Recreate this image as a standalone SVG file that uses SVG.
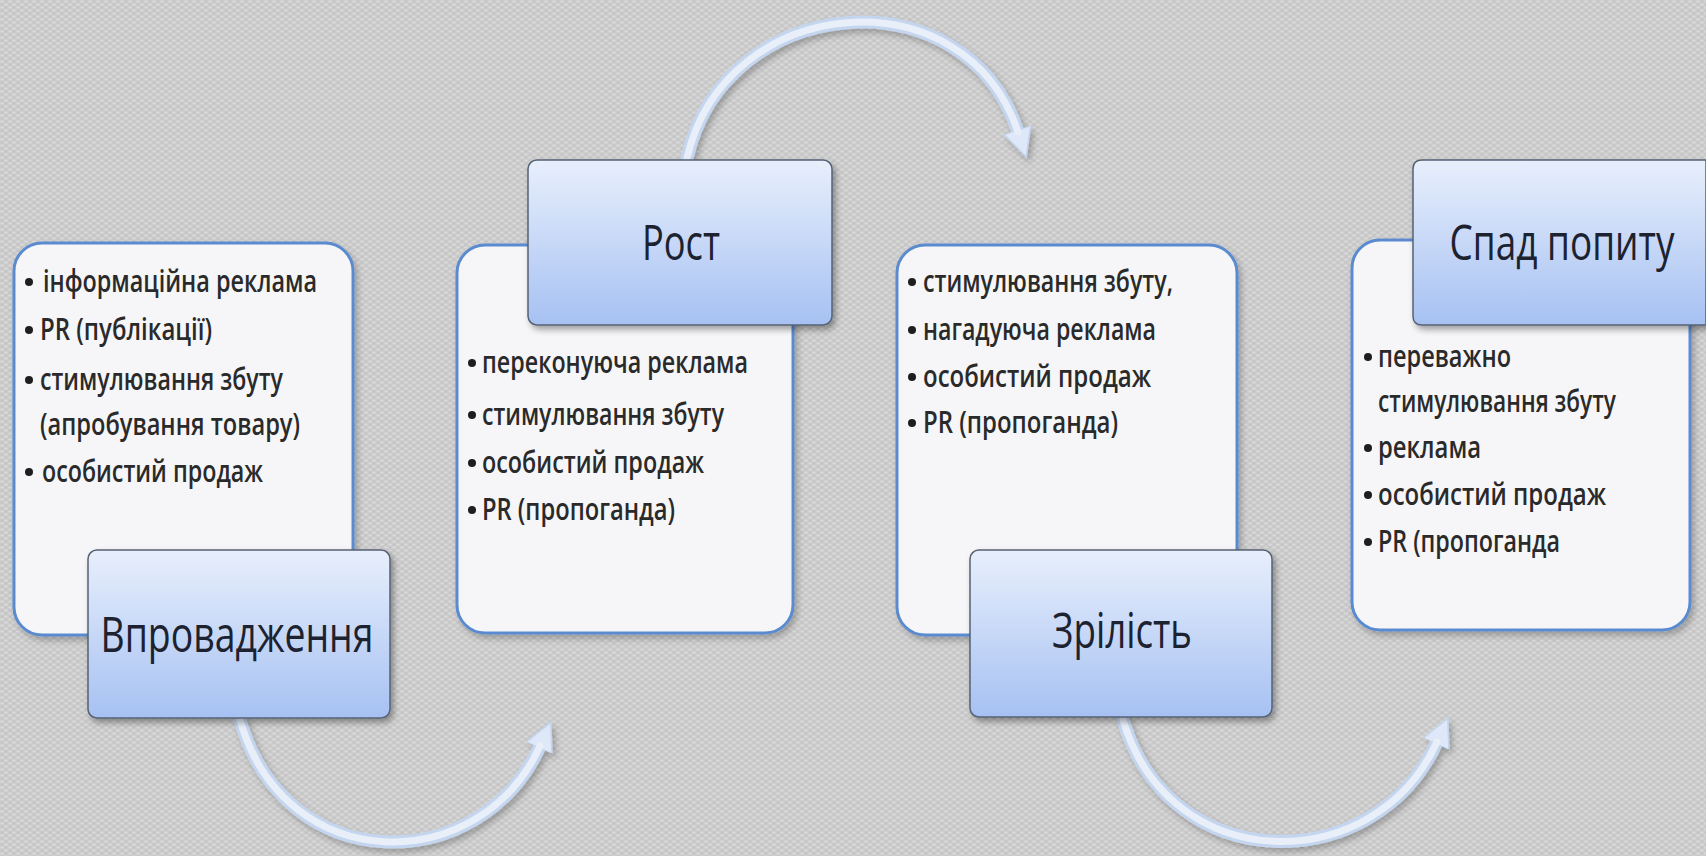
<svg xmlns="http://www.w3.org/2000/svg" width="1706" height="856" viewBox="0 0 1706 856">
<defs>
<style>
.card{fill:#f6f6f8;stroke:#5a8bd0;stroke-width:3}
.head{fill:url(#hg);stroke:#566274;stroke-width:1.5}
.ht{font-family:"Open Sans","Noto Sans",sans-serif;font-size:50px;fill:#1c2230;text-anchor:middle}
.bt{font-family:"Open Sans","Noto Sans",sans-serif;font-size:30px;font-weight:600;fill:#2a2a2a}
.dot{fill:#1e1e1e}
.arcO{fill:none;stroke:#c4d5ef;stroke-width:13;stroke-linecap:round}
.arcI{fill:none;stroke:#e8eff9;stroke-width:7;stroke-linecap:round}
</style>
<linearGradient id="hg" x1="0" y1="0" x2="0" y2="1">
<stop offset="0" stop-color="#e8effc"/>
<stop offset="1" stop-color="#a6c1f2"/>
</linearGradient>
<pattern id="tex" width="8" height="6" patternUnits="userSpaceOnUse">
<rect width="8" height="6" fill="#cbcbcb"/>
<ellipse cx="2" cy="1.5" rx="1.8" ry="1.1" fill="#dbdbdb"/>
<ellipse cx="6" cy="4.5" rx="1.8" ry="1.1" fill="#dbdbdb"/>
<ellipse cx="6" cy="1.5" rx="1" ry="0.7" fill="#c0c0c0"/>
<ellipse cx="2" cy="4.5" rx="1" ry="0.7" fill="#c0c0c0"/>
</pattern>
<filter id="sh" x="-10%" y="-10%" width="130%" height="130%">
<feDropShadow dx="3" dy="4" stdDeviation="3" flood-color="#000" flood-opacity="0.35"/>
</filter>
<filter id="ash" x="-10%" y="-10%" width="130%" height="130%">
<feDropShadow dx="3" dy="4" stdDeviation="3" flood-color="#000" flood-opacity="0.25"/>
</filter>
<marker id="ah" markerUnits="userSpaceOnUse" markerWidth="30" markerHeight="32" refX="2" refY="15" orient="auto">
<path d="M0,1 L28,15 L0,29 Z" fill="#dfe8f8" stroke="#c4d5ef" stroke-width="1.5"/>
</marker>
</defs>
<rect width="1706" height="856" fill="url(#tex)"/>

<g id="connectors" filter="url(#ash)">
<path class="arcO" d="M687,158 C725,-8 965,-28 1018,132" marker-end="url(#ah)"/>
<path class="arcI" d="M687,158 C725,-8 965,-28 1018,132"/>
<path class="arcO" d="M240,720 C285,878 480,878 540,746" marker-end="url(#ah)"/>
<path class="arcI" d="M240,720 C285,878 480,878 540,746"/>
<path class="arcO" d="M1123,720 C1170,878 1375,878 1437,742" marker-end="url(#ah)"/>
<path class="arcI" d="M1123,720 C1170,878 1375,878 1437,742"/>
</g>

<g id="stage1">
<rect class="card" x="14" y="243" width="339" height="392" rx="28" filter="url(#ash)"/>
<circle class="dot" cx="29" cy="282" r="4"/>
<text class="bt" x="43" y="292" textLength="274" lengthAdjust="spacingAndGlyphs">інформаційна реклама</text>
<circle class="dot" cx="29" cy="330" r="4"/>
<text class="bt" x="40" y="340" textLength="172" lengthAdjust="spacingAndGlyphs">PR (публікації)</text>
<circle class="dot" cx="29" cy="380" r="4"/>
<text class="bt" x="40" y="390" textLength="243" lengthAdjust="spacingAndGlyphs">стимулювання збуту</text>
<text class="bt" x="40" y="435" textLength="260" lengthAdjust="spacingAndGlyphs">(апробування товару)</text>
<circle class="dot" cx="29" cy="472" r="4"/>
<text class="bt" x="42" y="482" textLength="221" lengthAdjust="spacingAndGlyphs">особистий продаж</text>
<rect class="head" x="88" y="550" width="302" height="168" rx="9" filter="url(#sh)"/>
<text class="ht" x="237" y="652" textLength="273" lengthAdjust="spacingAndGlyphs">Впровадження</text>
</g>

<g id="stage2">
<rect class="card" x="457" y="245" width="336" height="388" rx="28" filter="url(#ash)"/>
<circle class="dot" cx="472" cy="363" r="4"/>
<text class="bt" x="482" y="373" textLength="266" lengthAdjust="spacingAndGlyphs">переконуюча реклама</text>
<circle class="dot" cx="472" cy="415" r="4"/>
<text class="bt" x="482" y="425" textLength="242" lengthAdjust="spacingAndGlyphs">стимулювання збуту</text>
<circle class="dot" cx="472" cy="463" r="4"/>
<text class="bt" x="482" y="473" textLength="222" lengthAdjust="spacingAndGlyphs">особистий продаж</text>
<circle class="dot" cx="472" cy="510" r="4"/>
<text class="bt" x="482" y="520" textLength="193" lengthAdjust="spacingAndGlyphs">PR (пропоганда)</text>
<rect class="head" x="528" y="160" width="304" height="165" rx="9" filter="url(#sh)"/>
<text class="ht" x="681" y="260" textLength="78" lengthAdjust="spacingAndGlyphs">Рост</text>
</g>

<g id="stage3">
<rect class="card" x="897" y="245" width="340" height="390" rx="28" filter="url(#ash)"/>
<circle class="dot" cx="912" cy="282" r="4"/>
<text class="bt" x="923" y="292" textLength="250" lengthAdjust="spacingAndGlyphs">стимулювання збуту,</text>
<circle class="dot" cx="912" cy="330" r="4"/>
<text class="bt" x="923" y="340" textLength="233" lengthAdjust="spacingAndGlyphs">нагадуюча реклама</text>
<circle class="dot" cx="912" cy="377" r="4"/>
<text class="bt" x="923" y="387" textLength="228" lengthAdjust="spacingAndGlyphs">особистий  продаж</text>
<circle class="dot" cx="912" cy="423" r="4"/>
<text class="bt" x="923" y="433" textLength="195" lengthAdjust="spacingAndGlyphs">PR (пропоганда)</text>
<rect class="head" x="970" y="550" width="302" height="167" rx="9" filter="url(#sh)"/>
<text class="ht" x="1122" y="648" textLength="140" lengthAdjust="spacingAndGlyphs">Зрілість</text>
</g>

<g id="stage4">
<rect class="card" x="1352" y="240" width="338" height="390" rx="28" filter="url(#ash)"/>
<circle class="dot" cx="1368" cy="357" r="4"/>
<text class="bt" x="1378" y="367" textLength="133" lengthAdjust="spacingAndGlyphs">переважно</text>
<text class="bt" x="1378" y="412" textLength="238" lengthAdjust="spacingAndGlyphs">стимулювання збуту</text>
<circle class="dot" cx="1368" cy="448" r="4"/>
<text class="bt" x="1378" y="458" textLength="103" lengthAdjust="spacingAndGlyphs">реклама</text>
<circle class="dot" cx="1368" cy="495" r="4"/>
<text class="bt" x="1378" y="505" textLength="228" lengthAdjust="spacingAndGlyphs">особистий  продаж</text>
<circle class="dot" cx="1368" cy="542" r="4"/>
<text class="bt" x="1378" y="552" textLength="182" lengthAdjust="spacingAndGlyphs">PR (пропоганда</text>
<path class="head" d="M1422,160 H1706 V325 H1422 Q1413,325 1413,316 V169 Q1413,160 1422,160 Z" filter="url(#sh)"/>
<text class="ht" transform="translate(1562,260) scale(0.8,1)" x="0" y="0" textLength="281" lengthAdjust="spacingAndGlyphs">Спад попиту</text>
</g>
</svg>
